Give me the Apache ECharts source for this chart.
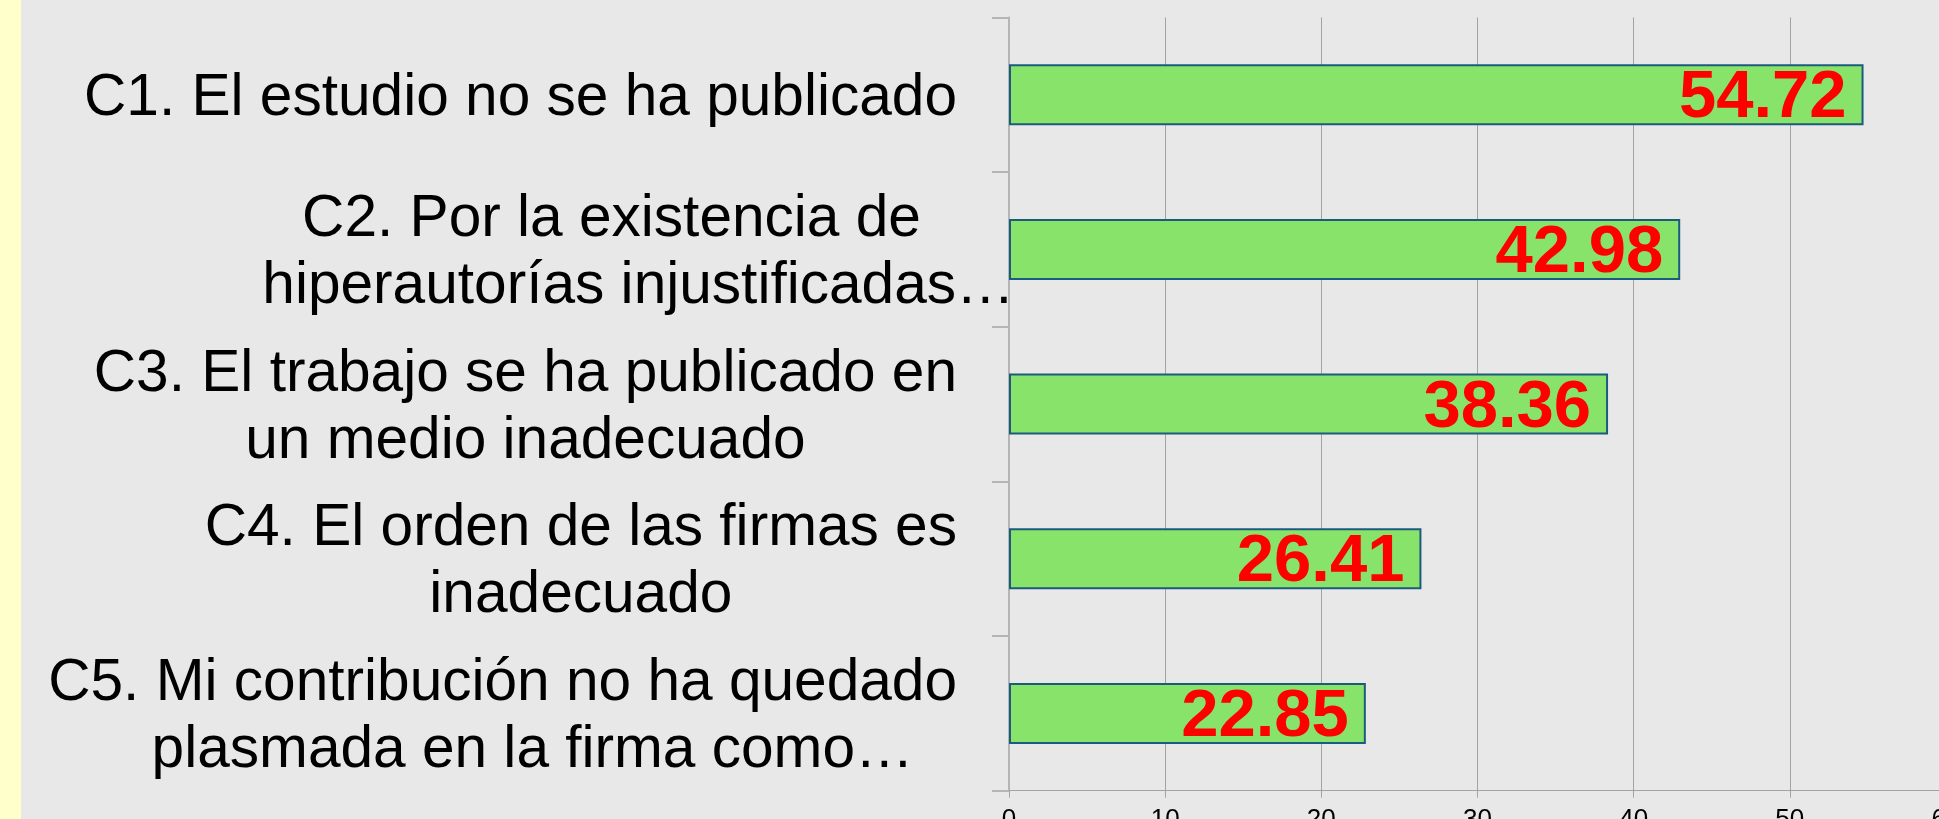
<!DOCTYPE html>
<html lang="es">
<head>
<meta charset="UTF-8">
<title>Motivos</title>
<script src="https://cdn.jsdelivr.net/npm/echarts@6/dist/echarts.min.js"></script>
<style>
    html, body { margin: 0; padding: 0; background: #e8e8e8; }
    #chart { width: 1939px; height: 819px; }
</style>
</head>
<body>
<div id="chart"></div>
<script>
    // datos
    var categories = [
        'C1. El estudio no se ha publicado',
        'C2. Por la existencia de\nhiperautorías injustificadas…',
        'C3. El trabajo se ha publicado en\nun medio inadecuado',
        'C4. El orden de las firmas es\ninadecuado',
        'C5. Mi contribución no ha quedado\nplasmada en la firma como…'
    ];
    var values = [54.72, 42.98, 38.36, 26.41, 22.85];
    var xTicks = [0, 10, 20, 30, 40, 50, 60];

    // estilo de cada linea de las etiquetas (centradas dentro del bloque)
    var lineStyles = [['l'], ['c2a', 'c2b'], ['l', 'l'], ['l', 'l'], ['l', 'c5b']];

    var font = "'Liberation Sans', Arial, sans-serif";
    var gray = '#a3a3a3';
    var fs = 58.6, lh = 67;

    var chart = echarts.init(document.getElementById('chart'));
    var option = {
        animation: false,
        backgroundColor: '#e8e8e8',
        graphic: [{
            type: 'rect', left: 0, top: 0, silent: true,
            shape: { width: 21, height: 819 },
            style: { fill: '#ffffcc' }
        }],
        grid: { left: 1009, right: -7, top: 17.5, bottom: 28.3, outerBoundsMode: 'none' },
        xAxis: {
            type: 'value',
            min: xTicks[0],
            max: xTicks[xTicks.length - 1],
            interval: xTicks[1] - xTicks[0],
            axisLine: { show: true, lineStyle: { color: gray, width: 1 } },
            axisTick: { show: true, length: 7, lineStyle: { color: gray } },
            splitLine: { show: true, lineStyle: { color: gray, width: 1 } },
            axisLabel: { fontSize: 26, color: '#000', margin: 16, fontFamily: font }
        },
        yAxis: {
            type: 'category',
            inverse: true,
            data: categories,
            axisLine: { show: true, lineStyle: { color: '#b5b5b5', width: 2 } },
            axisTick: { show: true, length: 17, lineStyle: { color: '#b5b5b5', width: 2 } },
            axisLabel: {
                interval: 0,
                margin: 52,
                padding: [8, 0, 0, 0],
                fontSize: fs,
                lineHeight: lh,
                color: '#000',
                fontFamily: font,
                formatter: function (value, idx) {
                    return value.split('\n').map(function (s, j) {
                        return '{' + lineStyles[idx][j] + '|' + s + '}';
                    }).join('\n');
                },
                rich: {
                    l: { align: 'center', fontSize: fs, lineHeight: lh, fontFamily: font, color: '#000' },
                    c2a: { align: 'center', width: 583, padding: [0, 54, 0, 0], fontSize: fs, lineHeight: lh, fontFamily: font, color: '#000' },
                    c2b: { align: 'center', width: 637, fontSize: fs, lineHeight: lh, fontFamily: font, color: '#000' },
                    c5b: { align: 'center', padding: [0, 0, 0, 60], fontSize: fs, lineHeight: lh, fontFamily: font, color: '#000' }
                }
            }
        },
        series: [{
            type: 'bar',
            data: values,
            barWidth: 61,
            itemStyle: { color: '#88e36a', borderColor: '#1d5b7e', borderWidth: 2 },
            label: {
                show: true,
                position: 'insideRight',
                distance: 17,
                offset: [0, 4],
                color: '#ff0000',
                fontSize: 67,
                fontWeight: 'bold',
                fontFamily: font
            }
        }]
    };
    chart.setOption(option);
</script>
</body>
</html>
